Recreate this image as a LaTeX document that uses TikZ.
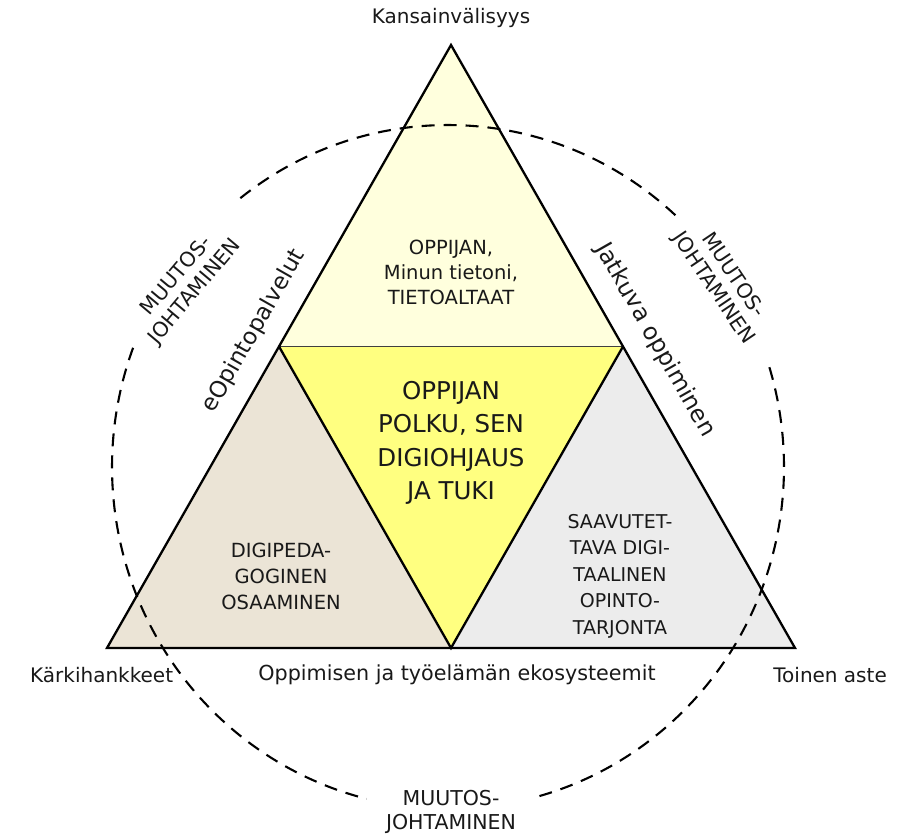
\documentclass[tikz,border=0pt]{standalone}
\usepackage{fontspec}
\setmainfont{DejaVu Sans}
\usetikzlibrary{calc}
\definecolor{topfill}{RGB}{255,255,221}
\definecolor{midfill}{RGB}{255,255,128}
\definecolor{leftfill}{RGB}{235,228,214}
\definecolor{rightfill}{RGB}{236,236,236}
\tikzset{
  lbl/.style={inner sep=0pt, align=center, text=black!90},
  edge/.style={line width=2.3pt, line join=miter},
  ring/.style={line width=2.1pt, dash pattern=on 13pt off 9pt},
}
\begin{document}
\begin{tikzpicture}[x=1pt,y=-1pt]
\useasboundingbox (0,0) rectangle (905,834);
\coordinate (A) at (451,45);
\coordinate (BL) at (107,648);
\coordinate (BR) at (795,648);
\coordinate (ML) at ($(A)!0.5!(BL)$);
\coordinate (MR) at ($(A)!0.5!(BR)$);
\coordinate (BM) at ($(BL)!0.5!(BR)$);
\coordinate (C) at (448,467);
% fills
\fill[topfill] (A) -- (ML) -- (MR) -- cycle;
\fill[midfill] (ML) -- (MR) -- (BM) -- cycle;
\fill[leftfill] (ML) -- (BL) -- (BM) -- cycle;
\fill[rightfill] (MR) -- (BM) -- (BR) -- cycle;
% edges
\draw[line width=1pt, black!75] (ML) -- (MR);
\draw[edge] (ML) -- (BM) -- (MR);
\draw[edge] (A) -- (BL) -- (BR) -- cycle;
% dashed ring
\draw[ring] (C) ++(-47.4:336 and 342) arc[start angle=-47.4, end angle=-129.3, x radius=336, y radius=342];
\draw[ring] (C) ++(-159.6:336 and 342) arc[start angle=-159.6, end angle=-256, x radius=336, y radius=342];
\draw[ring] (C) ++(-285.8:336 and 342) arc[start angle=-285.8, end angle=-378.2, x radius=336, y radius=342];
% inner texts
\node[lbl, font=\fontsize{19.5}{25}\selectfont] (top) at (451,272) {OPPIJAN,\\Minun tietoni,\\TIETOALTAAT};
\node[lbl, font=\fontsize{24.5}{33.5}\selectfont] (mid) at (451,443) {OPPIJAN\\POLKU, SEN\\DIGIOHJAUS\\JA TUKI};
\node[lbl, font=\fontsize{19.5}{26}\selectfont] (left) at (281,576) {DIGIPEDA-\\GOGINEN\\OSAAMINEN};
\node[lbl, font=\fontsize{19}{26.5}\selectfont] (right) at (620,576) {SAAVUTET-\\TAVA DIGI-\\TAALINEN\\OPINTO-\\TARJONTA};
% side labels
\node[lbl, font=\fontsize{23}{26}\selectfont, rotate=60.3] (eop) at (254,331) {eOpintopalvelut};
\node[lbl, font=\fontsize{23.5}{26}\selectfont, rotate=-60.3] (jat) at (655,340) {Jatkuva oppiminen};
% corner labels
\node[lbl, font=\fontsize{20}{23}\selectfont] (kv) at (451,18) {Kansainvälisyys};
\node[lbl, font=\fontsize{20}{23}\selectfont, anchor=west] (kh) at (30,675) {Kärkihankkeet};
\node[lbl, font=\fontsize{20.7}{23}\selectfont] (oje) at (457,675) {Oppimisen ja työelämän ekosysteemit};
\node[lbl, font=\fontsize{20}{23}\selectfont, anchor=east] (ta) at (887,675) {Toinen aste};
% muutosjohtaminen labels
\node[lbl, font=\fontsize{20.5}{24}\selectfont, rotate=50] (mjl) at (186,284) {MUUTOS-\\JOHTAMINEN};
\node[lbl, font=\fontsize{20.5}{24}\selectfont, rotate=-56] (mjr) at (723,282) {MUUTOS-\\JOHTAMINEN};
\node[lbl, font=\fontsize{20.5}{24}\selectfont] (mjb) at (451,812) {MUUTOS-\\JOHTAMINEN};
\end{tikzpicture}
\end{document}
